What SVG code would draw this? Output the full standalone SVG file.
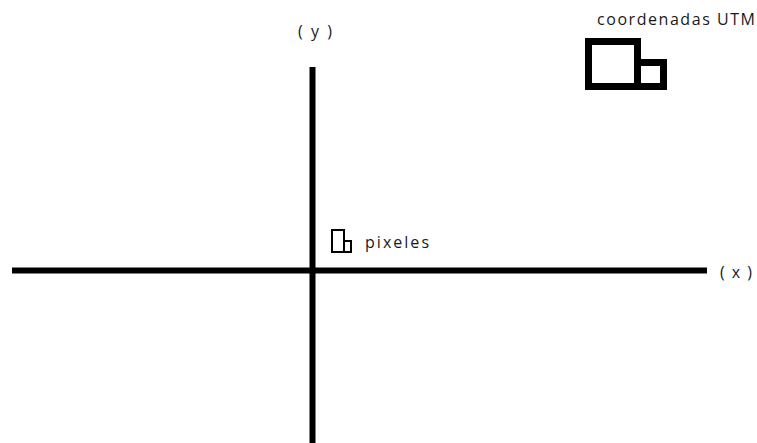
<svg xmlns="http://www.w3.org/2000/svg" width="757" height="443" viewBox="0 0 757 443">
<style>
.t{font-family:"Open Sans","Liberation Sans",sans-serif;font-size:16px;fill:#1a1a1a}
.ax{stroke:#000;stroke-width:6;fill:none}
.box{stroke:#000;fill:#fff}
</style>
<rect width="757" height="443" fill="#fff"/>
<g id="connectors">
<line class="ax" x1="12" y1="270.5" x2="707" y2="270.5"/>
<line class="ax" x1="312.5" y1="67" x2="312.5" y2="443"/>
</g>
<g id="label-y"><text class="t" x="315" y="37" text-anchor="middle" textLength="34" lengthAdjust="spacing">( y )</text></g>
<g id="label-x"><text class="t" x="720" y="278" textLength="32" lengthAdjust="spacing">( x )</text></g>
<g id="utm">
<text class="t" x="597" y="25" textLength="158" lengthAdjust="spacing">coordenadas UTM</text>
<rect class="box" x="588.5" y="41.5" width="49" height="45" stroke-width="7"/>
<rect class="box" x="637.5" y="62.5" width="26" height="24" stroke-width="7"/>
</g>
<g id="pixeles">
<rect class="box" x="332" y="230" width="12" height="22" stroke-width="2"/>
<rect class="box" x="344" y="241" width="7" height="11" stroke-width="2"/>
<text class="t" x="365" y="248" textLength="64" lengthAdjust="spacing">pixeles</text>
</g>
</svg>
